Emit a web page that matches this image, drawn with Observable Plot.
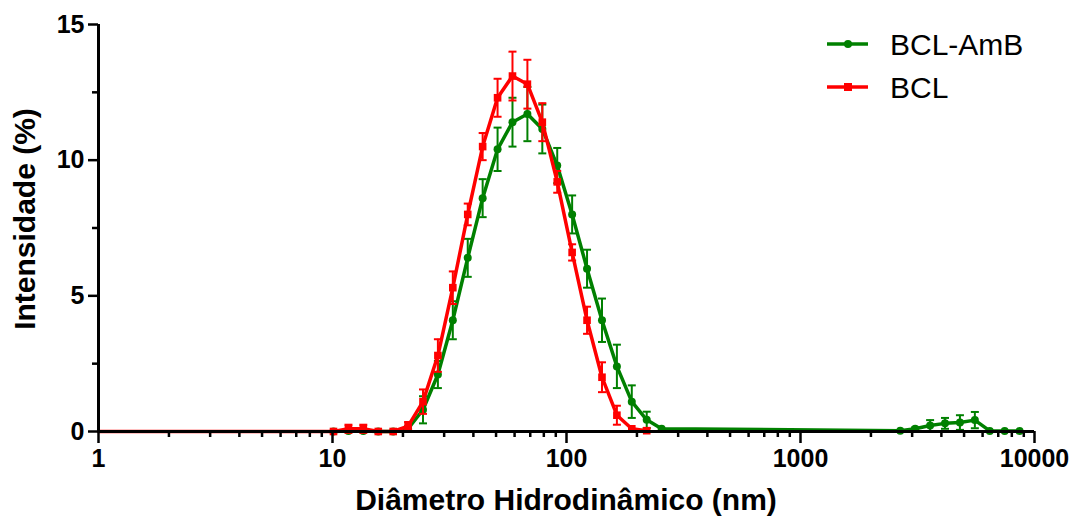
<!DOCTYPE html>
<html>
<head>
<meta charset="utf-8">
<script src="https://cdn.jsdelivr.net/npm/d3@7"></script>
<script src="https://cdn.jsdelivr.net/npm/@observablehq/plot@0.6"></script>
<style>
  html, body { margin: 0; padding: 0; background: #fff; }
  #chart svg { display: block; }
</style>
</head>
<body>
<div id="chart"></div>
<script>
const redSizes = [10.1, 11.7, 13.54, 15.69, 18.17, 21.04, 24.36, 28.21, 32.67, 37.84, 43.82, 50.75, 58.77, 68.06, 78.82, 91.28, 105.7, 122.4, 141.8, 164.2, 190.1, 220.2];
const redValues = [0, 0.1, 0.1, 0, 0, 0.2, 1.1, 2.8, 5.3, 8.0, 10.5, 12.3, 13.1, 12.8, 11.4, 9.2, 6.6, 4.1, 2.0, 0.6, 0.1, 0.03];
const redErrors = [0, 0.15, 0.15, 0, 0, 0.15, 0.45, 0.6, 0.6, 0.4, 0.5, 0.7, 0.9, 0.9, 0.7, 0.4, 0.3, 0.5, 0.55, 0.35, 0, 0];

const greenSizes = [10.1, 11.7, 13.54, 15.69, 18.17, 21.04, 24.36, 28.21, 32.67, 37.84, 43.82, 50.75, 58.77, 68.06, 78.82, 91.28, 105.7, 122.4, 141.8, 164.2, 190.1, 220.2, 255.0, 2669, 3091, 3580, 4145, 4801, 5560, 6439, 7456, 8635];
const greenValues = [0, 0.02, 0.02, 0, 0, 0.1, 0.8, 2.1, 4.1, 6.4, 8.6, 10.4, 11.4, 11.7, 11.15, 9.8, 8.0, 6.0, 4.1, 2.4, 1.1, 0.43, 0.1, 0.03, 0.1, 0.22, 0.3, 0.33, 0.42, 0.02, 0.02, 0.02];
const greenErrors = [0, 0, 0, 0, 0, 0.1, 0.5, 0.5, 0.7, 0.7, 0.7, 0.8, 0.9, 1.0, 0.9, 0.65, 0.7, 0.7, 0.8, 0.8, 0.6, 0.3, 0, 0, 0.05, 0.2, 0.2, 0.27, 0.3, 0, 0, 0];

const xMajorTicks = [1, 10, 100, 1000, 10000];
const xTickLabels = ["1", "10", "100", "1000", "10000"];
const yMajorTicks = [0, 5, 10, 15];
const yMinorTicks = [2.5, 7.5, 12.5];
const seriesNames = ["BCL-AmB", "BCL"];
const seriesColors = ["#008000", "#ff0000"];

const xMinorTicks = [];
for (const d of [1, 10, 100, 1000]) for (let k = 2; k <= 9; k++) xMinorTicks.push(d * k);

const red = redSizes.map((x, i) => ({x, y: redValues[i], e: redErrors[i]}));
const green = greenSizes.map((x, i) => ({x, y: greenValues[i], e: greenErrors[i]}));
const redLine = [{x: 1, y: 0}, ...red];

const capSymbol = {
  draw(context, size) {
    const r = Math.sqrt(size / Math.PI);
    context.moveTo(-r, 0);
    context.lineTo(r, 0);
  }
};

const font = "'Liberation Sans', Arial, sans-serif";

function errMarks(data, color) {
  const d = data.filter(p => p.e > 0);
  return [
    Plot.ruleX(d, {x: "x", y1: p => p.y - p.e, y2: p => p.y + p.e, stroke: color, strokeWidth: 2}),
    Plot.dot(d, {x: "x", y: p => p.y + p.e, symbol: capSymbol, r: 4, stroke: color, strokeWidth: 2, fill: "none"}),
    Plot.dot(d, {x: "x", y: p => p.y - p.e, symbol: capSymbol, r: 4, stroke: color, strokeWidth: 2, fill: "none"})
  ];
}

const plot = Plot.plot({
  width: 1075,
  height: 517,
  marginLeft: 98,
  marginRight: 41,
  marginTop: 24,
  marginBottom: 86,
  style: {fontFamily: font, background: "#fff", overflow: "visible"},
  x: {type: "log", domain: [1, 10000], label: null},
  y: {domain: [0, 15], label: null},
  marks: [
    // green series
    ...errMarks(green, seriesColors[0]),
    Plot.line(green, {x: "x", y: "y", stroke: seriesColors[0], strokeWidth: 3.5}),
    Plot.dot(green, {x: "x", y: "y", r: 4, fill: seriesColors[0], stroke: "none"}),
    // red series
    ...errMarks(red, seriesColors[1]),
    Plot.line(redLine, {x: "x", y: "y", stroke: seriesColors[1], strokeWidth: 3.5}),
    Plot.dot(red, {x: "x", y: "y", symbol: "square", r: 4.3, fill: seriesColors[1], stroke: "none"}),
    // axes
    Plot.ruleY([0], {x1: 1, x2: 10000, stroke: "#000", strokeWidth: 3}),
    Plot.ruleX([1], {y1: 0, y2: 15, stroke: "#000", strokeWidth: 3}),
    Plot.axisX(xMinorTicks, {tickSize: 6, stroke: "#000", strokeWidth: 2.5, text: null, label: null}),
    Plot.axisX(xMajorTicks, {tickSize: 12, tickPadding: 6, stroke: "#000", strokeWidth: 2.5,
      tickFormat: d => xTickLabels[xMajorTicks.indexOf(d)],
      fontSize: 25, fontWeight: "bold", fill: "#000", label: null}),
    Plot.axisY(yMinorTicks, {tickSize: 6, stroke: "#000", strokeWidth: 2.5, text: null, label: null}),
    Plot.axisY(yMajorTicks, {tickSize: 10, tickPadding: 4, stroke: "#000", strokeWidth: 2.5,
      fontSize: 25, fontWeight: "bold", fill: "#000", label: null}),
  ]
});

const svg = d3.select(plot);
// axis titles
svg.append("text")
  .attr("x", 566).attr("y", 510)
  .attr("text-anchor", "middle")
  .attr("font-family", font).attr("font-weight", "bold").attr("font-size", 30)
  .attr("fill", "#000")
  .text("Diâmetro Hidrodinâmico (nm)");
svg.append("text")
  .attr("transform", "translate(35,219) rotate(-90)")
  .attr("text-anchor", "middle")
  .attr("font-family", font).attr("font-weight", "bold").attr("font-size", 30)
  .attr("fill", "#000")
  .text("Intensidade (%)");

// legend
const legendY = [44, 87];
seriesNames.forEach((name, i) => {
  const g = svg.append("g").attr("transform", `translate(0,${legendY[i]})`);
  g.append("line").attr("x1", 827).attr("x2", 868).attr("y1", 0).attr("y2", 0)
    .attr("stroke", seriesColors[i]).attr("stroke-width", 3.5);
  if (i === 0) g.append("circle").attr("cx", 848).attr("cy", 0).attr("r", 4).attr("fill", seriesColors[i]);
  else g.append("rect").attr("x", 844).attr("y", -4).attr("width", 8).attr("height", 8).attr("fill", seriesColors[i]);
  g.append("text").attr("x", 890).attr("y", 0).attr("dy", "0.36em")
    .attr("text-anchor", "start")
    .attr("font-family", font).attr("font-size", 30).attr("fill", "#000")
    .text(name);
});

document.getElementById("chart").appendChild(plot);
</script>
</body>
</html>
